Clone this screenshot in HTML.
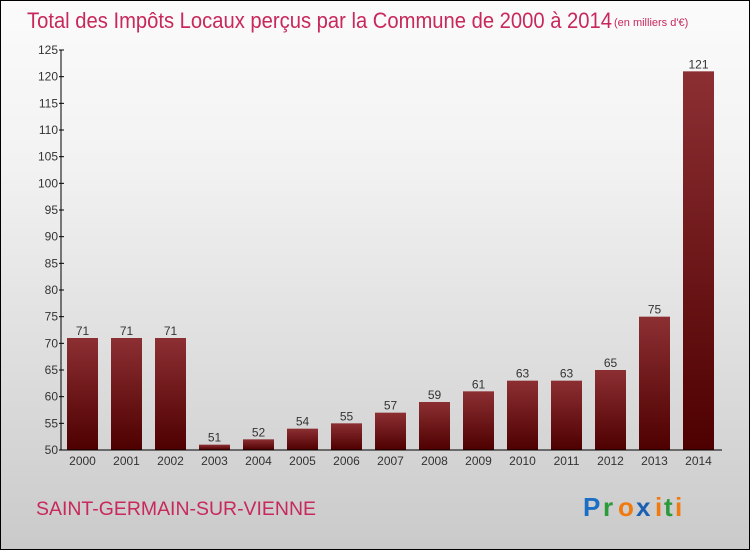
<!DOCTYPE html>
<html><head><meta charset="utf-8"><style>
body{margin:0}
#wrap{position:relative;width:750px;height:550px;box-sizing:border-box;border:1px solid #000;background:linear-gradient(#fbfbfb,#f2f2f2 30%,#cacaca);font-family:"Liberation Sans",sans-serif;overflow:hidden}
</style></head><body>
<div id="wrap">
<svg width="750" height="550" style="position:absolute;left:-1px;top:-1px">
<defs><linearGradient id="bg" x1="0" y1="0" x2="0" y2="1"><stop offset="0" stop-color="#8c2f33"/><stop offset="1" stop-color="#4e0000"/></linearGradient></defs>
<text x="27" y="28" font-size="22" fill="#c8285a" textLength="585" lengthAdjust="spacingAndGlyphs">Total des Impôts Locaux perçus par la Commune de 2000 à 2014</text>
<text x="614" y="26" font-size="11" fill="#c8285a">(en milliers d'€)</text>
<g id="yaxis"></g><g id="bars"></g><g id="xaxis"></g>
<text x="36" y="515" font-size="19" fill="#c8285a" textLength="280" lengthAdjust="spacingAndGlyphs">SAINT-GERMAIN-SUR-VIENNE</text>
<g font-size="26" font-weight="bold">
<text x="583" y="516" fill="#1a6fc4">P</text><text x="603" y="516" fill="#2a9a3a">r</text><text x="618" y="516" fill="#f07a10">o</text><text x="636" y="516" fill="#1a5fb4">x</text><text x="655" y="516" fill="#f07a10">i</text><text x="664" y="516" fill="#2a9a3a">t</text><text x="675" y="516" fill="#f07a10">i</text>
</g>
</svg>
</div>
<script>
const years=["2000","2001","2002","2003","2004","2005","2006","2007","2008","2009","2010","2011","2012","2013","2014"];
const values=[71,71,71,51,52,54,55,57,59,61,63,63,65,75,121];
const yTicks=[50,55,60,65,70,75,80,85,90,95,100,105,110,115,120,125];
const NS="http://www.w3.org/2000/svg";
const yMin=50,yMax=125,y0=450,y1=50,x0=61,step=44,bw=31,bx0=67;
const y=v=>y0-(v-yMin)/(yMax-yMin)*(y0-y1);
function mk(t,a,p){const e=document.createElementNS(NS,t);for(const k in a)e.setAttribute(k,a[k]);p.appendChild(e);return e;}
const ya=document.getElementById('yaxis'),ba=document.getElementById('bars'),xa=document.getElementById('xaxis');
const al=mk('line',{x1:x0,y1:y1,x2:x0,y2:y0,stroke:'#000'},ya);


yTicks.forEach(t=>{
 const tk=mk('line',{x1:x0-2,x2:x0+3,y1:y(t),y2:y(t),stroke:'#000'},ya);
 
 
 const lb=mk('text',{x:x0-3,y:y(t)+4,'font-size':12,'text-anchor':'end',fill:'#333'},ya);
 lb.textContent=t;
 
 
});
const xl=mk('line',{x1:x0,x2:722,y1:y0,y2:y0,stroke:'#000'},xa);


years.forEach((yr,i)=>{
 const bx=bx0+i*step,v=values[i];
 const r=mk('rect',{x:bx,y:y(v),width:bw,height:y0-y(v),fill:'url(#bg)'},ba);
 
 
 const vl=mk('text',{x:bx+bw/2,y:y(v)-3,'font-size':12,'text-anchor':'middle',fill:'#333'},ba);
 vl.textContent=v;
 
 
 const xt=mk('text',{x:bx+bw/2,y:465,'font-size':12,'text-anchor':'middle',fill:'#333'},xa);
 xt.textContent=yr;
 
 
});
</script>
</body></html>
